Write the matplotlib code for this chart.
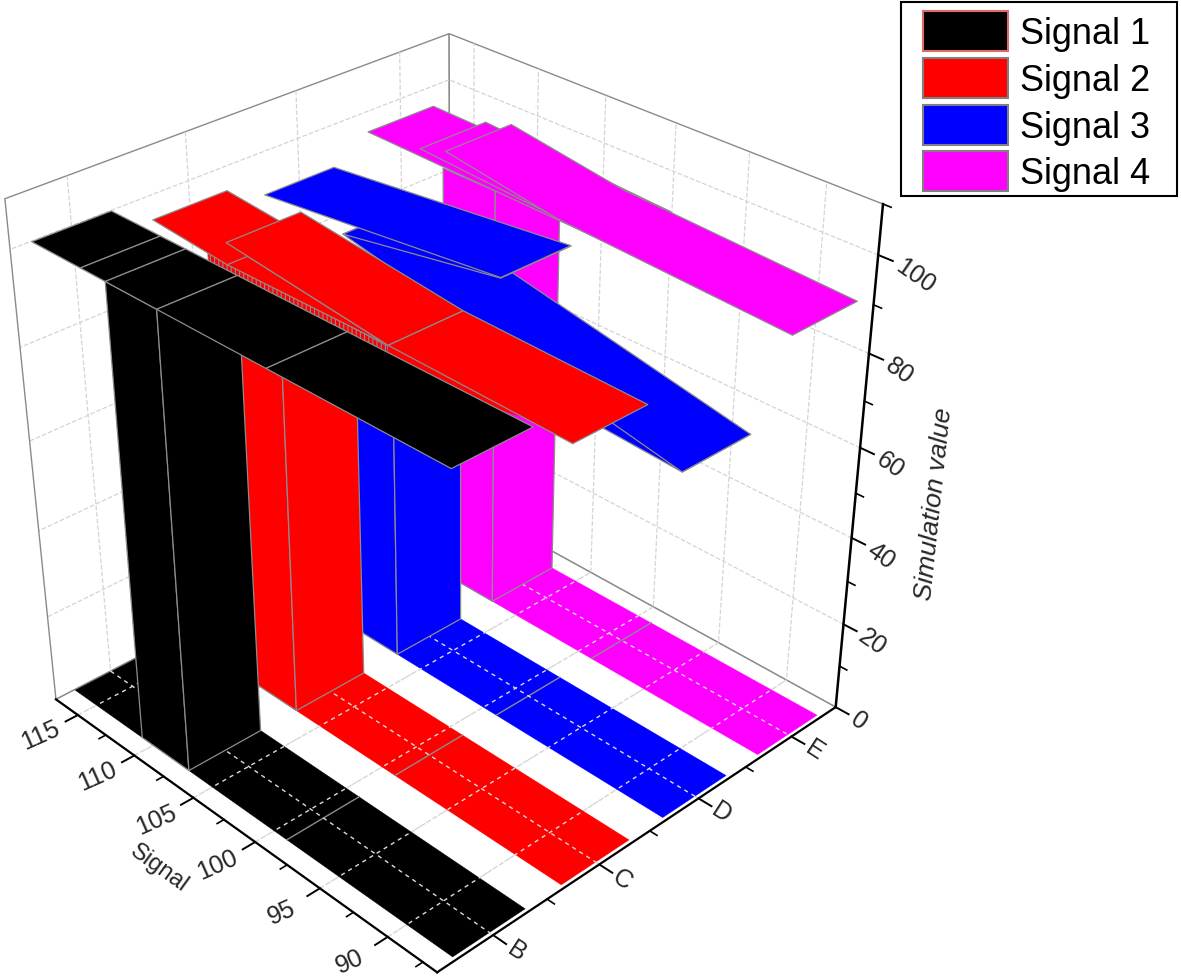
import numpy as np
import matplotlib
matplotlib.use("Agg")
import matplotlib.pyplot as plt
from matplotlib.patches import Patch, Rectangle
from mpl_toolkits.mplot3d.art3d import Poly3DCollection
from mpl_toolkits.mplot3d import proj3d

# ---- data ----
signal_names = ["Signal 1", "Signal 2", "Signal 3", "Signal 4"]
signal_colors = ["#000000", "#ff0000", "#0000ff", "#ff00ff"]
legend_edges = ["#e06a6a", "#808080", "#808080", "#808080"]
categories = ["B", "C", "D", "E"]
category_pos = [1, 2, 3, 4]
half_width = 0.33

x_major = [115, 110, 105, 100, 95, 90]
x_minor = [112.5, 107.5, 102.5, 97.5, 92.5, 87.5]
y_minor = [1.5, 2.5, 3.5]
z_major = [0, 20, 40, 60, 80, 100]
z_minor = [10, 30, 50, 70, 90, 110]

floor_x = [117, 86.8]
floor_lines_x = [111, 107, 99]
wall_x = [111, 107]
wall_top = [100, 93.5, 88, 95]

# top ribbons, each signal has one or more strips, drawn in this order
sig1_top_x = [[117, 113, 111, 107, 99, 86.8]]
sig1_top_z = [[100, 100, 100, 100, 100, 100]]
sig2_top_x = [[117, 111], [111, 99, 86.8]]
sig2_top_z = [[95, 93.5], [98, 93.8, 93]]
sig3_top_x = [[99, 86.7], [110.7, 86.7], [110.7, 99], [117, 99]]
sig3_top_z = [[78, 76], [90.6, 76], [90.6, 96.9], [91, 97]]
sig4_top_x = [[117, 99], [112.8, 99], [110.8, 102.4, 86.6]]
sig4_top_z = [[95.7, 94.5], [97, 94.5], [98.8, 94.9, 92.4]]

top_x = [sig1_top_x, sig2_top_x, sig3_top_x, sig4_top_x]
top_z = [sig1_top_z, sig2_top_z, sig3_top_z, sig4_top_z]

# ---- figure ----
plt.rcParams['font.family'] = ['Liberation Sans', 'DejaVu Sans']
plt.rcParams['grid.linestyle'] = '--'
plt.rcParams['grid.color'] = '#d4d4d4'
plt.rcParams['grid.linewidth'] = 0.9
plt.rcParams['hatch.linewidth'] = 0.8

fig = plt.figure(figsize=(11.81, 9.79), dpi=100)
ax = fig.add_axes([-61.7 / 1181, 5.5 / 979, 984 / 1181, 984 / 979], projection='3d')
ax.computed_zorder = False
ax.patch.set_alpha(0)
ax.set_xlim(117, 86.5)
ax.set_ylim(0.5, 4.5)
ax.set_zlim(0, 110)
ax.set_autoscale_on(False)
ax.view_init(31.6156, -43.7629, 0.2501)
ax.set_proj_type('persp', focal_length=0.48761)
ax.set_box_aspect((0.99709, 0.99261, 1.0))

edge = '#8c8c8c'
text_col = '#262626'

for axis in (ax.xaxis, ax.yaxis, ax.zaxis):
    axis.set_pane_color((1, 1, 1, 1))
    axis.pane.set_edgecolor('#8a8a8a')
    axis.pane.set_linewidth(1.0)
    axis.line.set_color((0, 0, 0, 0))
ax.set_xticks(x_major)
ax.set_yticks(category_pos)
ax.set_zticks(z_major[1:])
ax.set_xticklabels([])
ax.set_yticklabels([])
ax.set_zticklabels([])
ax.tick_params(axis='both', color=(0, 0, 0, 0))
ax.grid(True)

zo = 10
M = ax.get_proj()


def poly(verts, color, ec=edge, lw=0.9, **kw):
    global zo
    zo += 1
    pc = Poly3DCollection([verts], facecolors=color, edgecolors=ec, linewidths=lw, zorder=zo, **kw)
    ax.add_collection3d(pc, autolim=False)
    return pc


def line(xs, ys, zs, **kw):
    global zo
    zo += 1
    ax.plot(xs, ys, zs, zorder=zo, clip_on=False, **kw)


def label(x, y, z, s, rot, **kw):
    # Text3D ignores rotation, so place it through the projection
    px, py, _ = proj3d.proj_transform(x, y, z, M)
    ax.text2D(px, py, s, transform=ax.transData, rotation=rot, rotation_mode='anchor', fontsize=18,
              color=text_col, clip_on=False, zorder=500, **kw)


# left edge of the box
line([117, 117], [0.5, 0.5], [0, 110], color='#8a8a8a', lw=1.0)

# floors first
for c, col in zip(category_pos, signal_colors):
    y0, y1 = c - half_width, c + half_width
    poly([(floor_x[0], y0, 0), (floor_x[1], y0, 0), (floor_x[1], y1, 0), (floor_x[0], y1, 0)], col, ec=col, lw=0.3)
    for x in floor_lines_x:
        line([x, x], [y0, y1], [0, 0], color=edge, lw=1.0)

# dashed floor grid lies over the floor ribbons
for x in x_major:
    line([x, x], [0.5, 4.5], [0, 0], color='#dcdcdc', lw=1.0, ls=(0, (3, 3)))
for c in category_pos:
    line([117, 86.5], [c, c], [0, 0], color='#dcdcdc', lw=1.0, ls=(0, (3, 3)))

# walls and top ribbons, back to front
for i in [3, 2, 1, 0]:
    c, col = category_pos[i], signal_colors[i]
    y0, y1 = c - half_width, c + half_width
    zt = wall_top[i]
    poly([(wall_x[0], y0, 0), (wall_x[1], y0, 0), (wall_x[1], y0, zt), (wall_x[0], y0, zt)], col)
    poly([(wall_x[1], y0, 0), (wall_x[1], y1, 0), (wall_x[1], y1, zt), (wall_x[1], y0, zt)], col)
    if i == 1:
        # thin hatched strip under the raised part of Signal 2
        poly([(99, y0, 93.8), (90, y0, 93.2), (99, y0, 88)], col, ec=col, lw=0.3)
        poly([(112.5, y0, 94.6), (99, y0, 93.5), (99, y0, 88), (112.5, y0, 88)], col, hatch='||||', lw=0.6)
        poly([(111, y0, 98), (99, y0, 93.8), (111, y0, 93.5)], col)
    for xs, zs in zip(top_x[i], top_z[i]):
        if i == 3:
            # the bend in Signal 4 has no cross line
            front = [(a, y0, b) for a, b in zip(xs, zs)]
            back = [(a, y1, b) for a, b in zip(xs, zs)]
            poly(front + back[::-1], col)
            continue
        for k in range(len(xs) - 1):
            poly([(xs[k], y0, zs[k]), (xs[k + 1], y0, zs[k + 1]),
                  (xs[k + 1], y1, zs[k + 1]), (xs[k], y1, zs[k])], col)

# axis lines, ticks
line([117, 86.5], [0.5, 0.5], [0, 0], color='k', lw=1.6)
line([86.5, 86.5], [0.5, 4.5], [0, 0], color='k', lw=1.6)
line([86.5, 86.5], [4.5, 4.5], [0, 110], color='k', lw=1.8)

for t in x_major:
    line([t, t], [0.5, 0.39], [0, 0], color='k', lw=1.4)
    label(t, 0.5 - 0.33, 0, str(t), 24, ha='center', va='center')
for t in x_minor:
    line([t, t], [0.5, 0.44], [0, 0], color='k', lw=1.2)
for t, s in zip(category_pos, categories):
    line([86.5, 85.6], [t, t], [0, 0], color='k', lw=1.4)
    label(84.9, t, 0, s, -33, ha='center', va='center')
for t in y_minor:
    line([86.5, 86.0], [t, t], [0, 0], color='k', lw=1.2)
for t in z_major:
    line([86.5, 85.6], [4.5, 4.5], [t, t], color='k', lw=1.4)
    label(85.3, 4.5, t, str(t), -35, ha='left', va='center')
for t in z_minor:
    line([86.5, 86.0], [4.5, 4.5], [t, t], color='k', lw=1.2)

fig.text(159 / 1181, 1 - 868 / 979, "Signal", rotation=-36, ha='center', va='center', fontsize=17, color=text_col)
fig.text(934 / 1181, 1 - 504 / 979, "Simulation value", rotation=84, style='italic', ha='center', va='center',
         fontsize=19, color=text_col)

# legend with its own frame
fig.add_artist(Rectangle((901 / 1181, 1 - 197 / 979), 276 / 1181, 194 / 979, transform=fig.transFigure,
                         facecolor='white', edgecolor='k', lw=1.5, zorder=50))
handles = [Patch(facecolor=c, edgecolor=e, lw=1.5) for c, e in zip(signal_colors, legend_edges)]
leg = fig.legend(handles, signal_names, loc='upper left', bbox_to_anchor=(923 / 1181, 1 - 12 / 979), frameon=False,
                 fontsize=26, borderpad=0, borderaxespad=0, handlelength=2.36, handleheight=1.33,
                 handletextpad=0.33, labelspacing=0.185)
leg.set_zorder(60)

fig.savefig("out.png", dpi=100)
